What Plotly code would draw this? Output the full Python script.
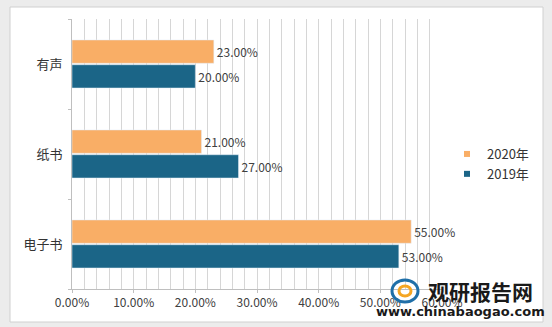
import plotly.graph_objects as go

categories = ["电子书", "纸书", "有声"]
values_2019 = [0.53, 0.27, 0.20]
values_2020 = [0.55, 0.21, 0.23]
series_names = ["2019年", "2020年"]
color_2019 = "#1B6587"
color_2020 = "#F9AE66"

FONT = "Microsoft YaHei, Noto Sans CJK SC, sans-serif"

W, H = 552, 327
L, R, T, B = 72, 110, 19, 38
pw, ph = W - L - R, H - T - B


def px(x):
    return (x - L) / pw


def py(y):
    return (H - B - y) / ph


fig = go.Figure()
fig.add_trace(go.Bar(
    y=categories, x=values_2019, orientation="h", name=series_names[0],
    marker_color=color_2019, text=[f"{v*100:.2f}%" for v in values_2019],
    textposition="outside", cliponaxis=False, showlegend=False,
    textfont=dict(size=12, color="#404040", family=FONT),
))
fig.add_trace(go.Bar(
    y=categories, x=values_2020, orientation="h", name=series_names[1],
    marker_color=color_2020, text=[f"{v*100:.2f}%" for v in values_2020],
    textposition="outside", cliponaxis=False, showlegend=False,
    textfont=dict(size=12, color="#404040", family=FONT),
))
# legend entries (small square markers)
for name, col in [(series_names[1], color_2020), (series_names[0], color_2019)]:
    fig.add_trace(go.Scatter(
        x=[None], y=[None], mode="markers", name=name,
        marker=dict(symbol="square", size=6, color=col),
    ))

fig.add_shape(type="rect", xref="paper", yref="paper",
              x0=px(10), x1=px(543), y0=py(322), y1=py(7),
              fillcolor="white", line=dict(color="#d0d0d0", width=1),
              layer="below")

# watermark logo (simple swirl) and text
fig.add_shape(type="circle", xref="paper", yref="paper",
              x0=px(392), x1=px(418), y0=py(302), y1=py(280),
              line=dict(color="#1f6fa8", width=3), fillcolor="rgba(0,0,0,0)")
fig.add_shape(type="circle", xref="paper", yref="paper",
              x0=px(399), x1=px(411), y0=py(296), y1=py(286),
              line=dict(color="#f5a623", width=3), fillcolor="rgba(0,0,0,0)")
fig.add_annotation(xref="paper", yref="paper", x=px(480), y=py(291),
                   xanchor="center", yanchor="middle",
                   text="<b>观研报告网</b>", showarrow=False,
                   font=dict(size=21, color="#1a1a1a", family=FONT))
fig.add_annotation(xref="paper", yref="paper", x=px(460), y=py(311),
                   xanchor="center", yanchor="middle",
                   text="<b>www.chinabaogao.com</b>", showarrow=False,
                   font=dict(size=13, color="#1a1a1a", family="DejaVu Sans, sans-serif"))

fig.update_layout(
    width=W, height=H,
    margin=dict(l=L, r=R, t=T, b=B, autoexpand=False),
    paper_bgcolor="#ececec",
    plot_bgcolor="#f8f8f8",
    barmode="group", bargap=0.45, bargroupgap=0.06,
    font=dict(family=FONT, size=12, color="#404040"),
    legend=dict(x=px(447), y=py(164), xanchor="left", yanchor="middle",
                font=dict(size=13, color="#333333"), bgcolor="rgba(0,0,0,0)",
                itemwidth=30, tracegroupgap=4),
    xaxis=dict(range=[0, 0.6], dtick=0.1, tickformat=".2%",
               showgrid=True, gridcolor="#d6d6d6", gridwidth=1,
               minor=dict(dtick=0.02, showgrid=True, gridcolor="#d6d6d6"),
               showline=True, linecolor="#bfbfbf", ticks="outside",
               ticklen=3, tickcolor="#bfbfbf", zeroline=False,
               tickfont=dict(size=12, color="#404040"), fixedrange=True,
               automargin=False),
    yaxis=dict(categoryorder="array", categoryarray=categories,
               showline=True, linecolor="#bfbfbf", ticks="outside",
               tickson="boundaries", ticklen=3, tickcolor="#bfbfbf",
               tickfont=dict(size=13, color="#333333"), ticksuffix="  ",
               showgrid=False, automargin=False),
)

fig.write_html("out.html")
